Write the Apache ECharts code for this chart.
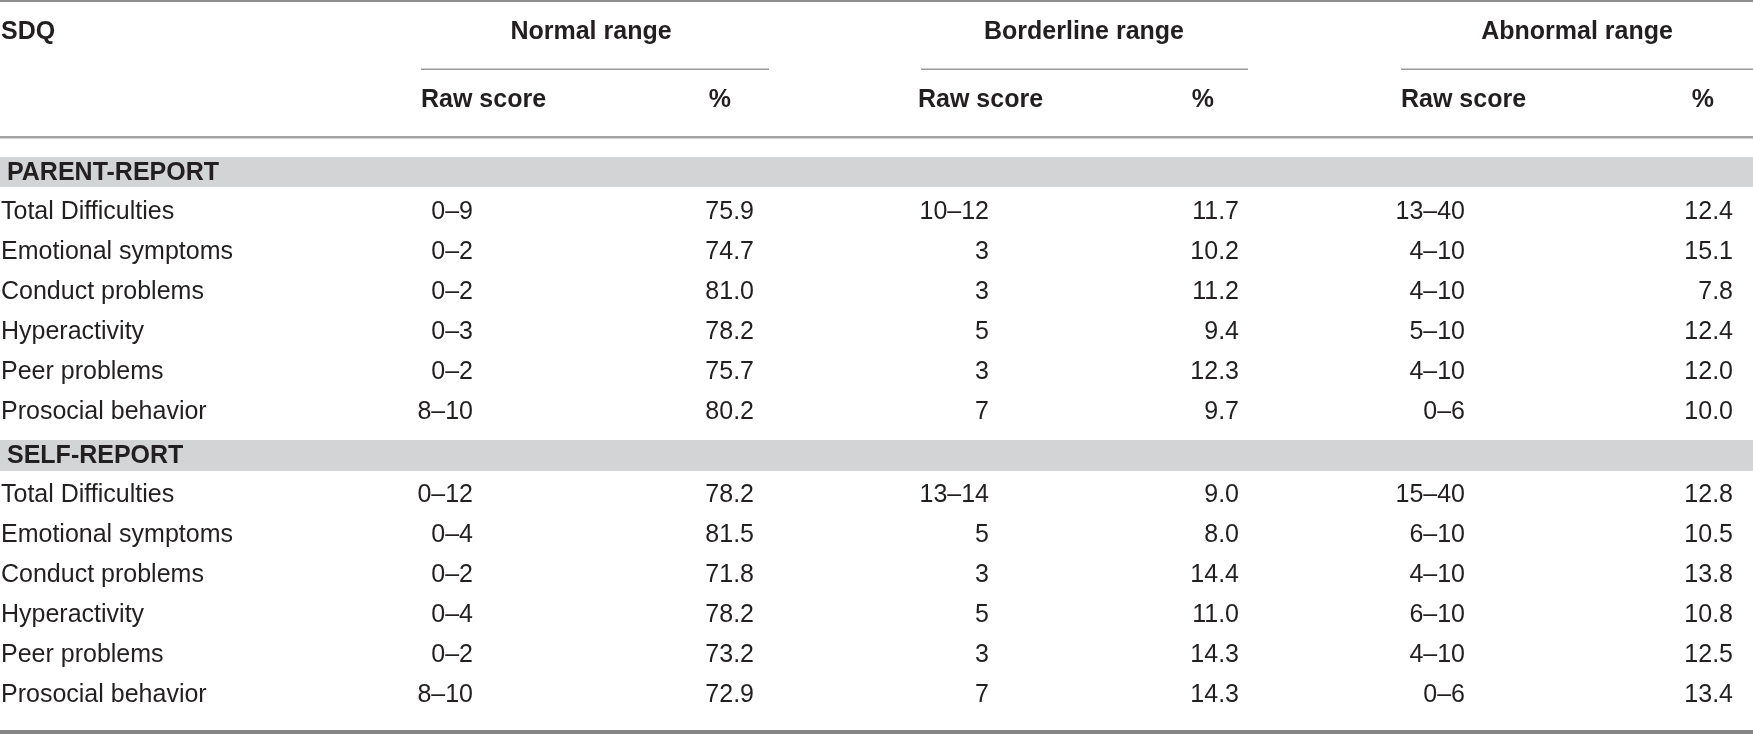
<!DOCTYPE html>
<html>
<head>
<meta charset="utf-8">
<script src="https://cdn.jsdelivr.net/npm/echarts@6/dist/echarts.min.js"></script>
<style>
html,body{margin:0;padding:0;background:#fff;}
#chart{width:1753px;height:734px;}
</style>
</head>
<body>
<div id="chart"></div>
<script>
// ---- data ----
const stubHeader = 'SDQ';
const rangeGroups = ['Normal range', 'Borderline range', 'Abnormal range'];
const subHeaders = ['Raw score', '%'];
const sections = ['PARENT-REPORT', 'SELF-REPORT'];
const scales = ['Total Difficulties', 'Emotional symptoms', 'Conduct problems', 'Hyperactivity', 'Peer problems', 'Prosocial behavior'];

const parentNormalRaw = ['0–9', '0–2', '0–2', '0–3', '0–2', '8–10'];
const parentNormalPct = [75.9, 74.7, 81.0, 78.2, 75.7, 80.2];
const parentBorderRaw = ['10–12', '3', '3', '5', '3', '7'];
const parentBorderPct = [11.7, 10.2, 11.2, 9.4, 12.3, 9.7];
const parentAbnormalRaw = ['13–40', '4–10', '4–10', '5–10', '4–10', '0–6'];
const parentAbnormalPct = [12.4, 15.1, 7.8, 12.4, 12.0, 10.0];

const selfNormalRaw = ['0–12', '0–4', '0–2', '0–4', '0–2', '8–10'];
const selfNormalPct = [78.2, 81.5, 71.8, 78.2, 73.2, 72.9];
const selfBorderRaw = ['13–14', '5', '3', '5', '3', '7'];
const selfBorderPct = [9.0, 8.0, 14.4, 11.0, 14.3, 14.3];
const selfAbnormalRaw = ['15–40', '6–10', '4–10', '6–10', '4–10', '0–6'];
const selfAbnormalPct = [12.8, 10.5, 13.8, 10.8, 12.5, 13.4];

// ---- layout ----
const W = 1753, H = 734;
const FONT = '"Liberation Sans", Arial, Helvetica, sans-serif';
const TXT = '#231f20';
const colRight = [473, 754, 989, 1239, 1465, 1733];
const groupCenter = [591, 1084, 1577];
const groupSpan = [[421, 769], [921, 1248], [1401, 1753]];
const rawLeft = [421, 918, 1401];
const pctRight = [731, 1214, 1714];
const headerY = 32, subHeaderY = 100;
const sectionBand = [[157, 187], [440, 471]];
const firstRowY = [212, 495];
const rowPitch = 40;

const sectionData = [
  [parentNormalRaw, parentNormalPct, parentBorderRaw, parentBorderPct, parentAbnormalRaw, parentAbnormalPct],
  [selfNormalRaw, selfNormalPct, selfBorderRaw, selfBorderPct, selfAbnormalRaw, selfAbnormalPct]
];

// build cells
const cells = [];
cells.push({ value: [1, headerY], text: stubHeader, align: 'left', bold: true });
rangeGroups.forEach((g, i) => {
  cells.push({ value: [groupCenter[i], headerY], text: g, align: 'center', bold: true });
  cells.push({ value: [rawLeft[i], subHeaderY], text: subHeaders[0], align: 'left', bold: true });
  cells.push({ value: [pctRight[i], subHeaderY], text: subHeaders[1], align: 'right', bold: true });
});
sections.forEach((s, si) => {
  const band = sectionBand[si];
  cells.push({ value: [7, (band[0] + band[1]) / 2 + 1], text: s, align: 'left', bold: true });
  scales.forEach((name, ri) => {
    const y = firstRowY[si] + ri * rowPitch;
    cells.push({ value: [1, y], text: name, align: 'left', bold: false });
    sectionData[si].forEach((col, ci) => {
      const v = col[ri];
      cells.push({ value: [colRight[ci], y], text: typeof v === 'number' ? v.toFixed(1) : v, align: 'right', bold: false });
    });
  });
});

// rules: [x1, x2, yTop, height, color]
const rules = [];
rules.push({ value: [0, W, 0, 2, '#8d8d8d'] });
groupSpan.forEach(sp => rules.push({ value: [sp[0], sp[1], 68.5, 1.5, '#9a9a9a'] }));
rules.push({ value: [0, W, 136, 2.5, '#a3a3a3'] });
sectionBand.forEach(b => rules.push({ value: [0, W, b[0], b[1] - b[0], '#d3d4d6'] }));
rules.push({ value: [0, W, 730, 4, '#858585'] });

const chart = echarts.init(document.getElementById('chart'), null, { renderer: 'canvas' });
chart.setOption({
  animation: false,
  backgroundColor: '#ffffff',
  grid: { left: 0, right: 0, top: 0, bottom: 0 },
  xAxis: { type: 'value', min: 0, max: W, show: false },
  yAxis: { type: 'value', min: 0, max: H, inverse: true, show: false },
  series: [
    {
      type: 'custom',
      name: 'rules',
      clip: false,
      silent: true,
      data: rules,
      encode: { x: [0, 1], y: 2 },
      renderItem: function (params, api) {
        const r = rules[params.dataIndex].value;
        const p1 = api.coord([r[0], r[2]]);
        const p2 = api.coord([r[1], r[2] + r[3]]);
        return {
          type: 'rect',
          shape: { x: p1[0], y: p1[1], width: p2[0] - p1[0], height: p2[1] - p1[1] },
          style: { fill: r[4] }
        };
      }
    },
    {
      type: 'custom',
      name: 'cells',
      clip: false,
      silent: true,
      data: cells.map(c => c.value),
      encode: { x: 0, y: 1 },
      renderItem: function (params, api) {
        const c = cells[params.dataIndex];
        const p = api.coord([api.value(0), api.value(1)]);
        return {
          type: 'text',
          x: p[0],
          y: p[1],
          style: {
            text: c.text,
            fill: TXT,
            fontSize: 25,
            fontFamily: FONT,
            fontWeight: c.bold ? 'bold' : 'normal',
            align: c.align,
            verticalAlign: 'middle'
          }
        };
      }
    }
  ]
});
</script>
</body>
</html>
